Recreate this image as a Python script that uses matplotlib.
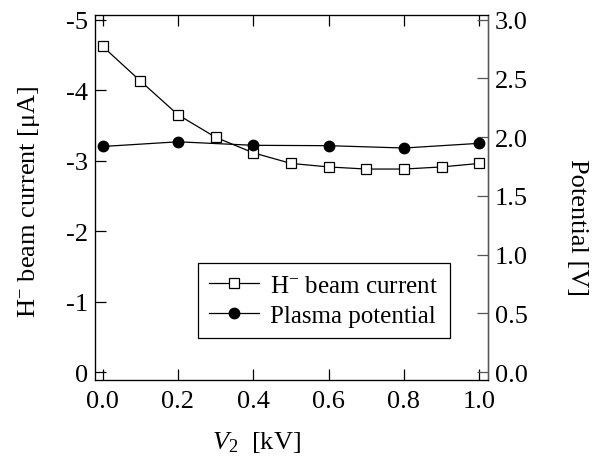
import matplotlib.pyplot as plt

plt.rcParams['font.family'] = ['Liberation Serif', 'DejaVu Serif']
plt.rcParams['mathtext.fontset'] = 'custom'
plt.rcParams['mathtext.rm'] = 'Liberation Serif'
plt.rcParams['mathtext.it'] = 'Liberation Serif:italic'
plt.rcParams['font.size'] = 19

# data
v2_current = [0.0, 0.1, 0.2, 0.3, 0.4, 0.5, 0.6, 0.7, 0.8, 0.9, 1.0]
h_current = [-4.62, -4.13, -3.65, -3.33, -3.11, -2.96, -2.91, -2.88, -2.88, -2.91, -2.96]

v2_potential = [0.0, 0.2, 0.4, 0.6, 0.8, 1.0]
plasma_potential = [1.92, 1.96, 1.93, 1.927, 1.907, 1.947]

x_ticks = [0.0, 0.2, 0.4, 0.6, 0.8, 1.0]
left_ticks = [0, -1, -2, -3, -4, -5]
right_ticks = [0.0, 0.5, 1.0, 1.5, 2.0, 2.5, 3.0]

fig = plt.figure(figsize=(6.02, 4.6), dpi=100)
ax = fig.add_axes([0.158, 0.172, 0.652, 0.794])
ax2 = ax.twinx()

l1, = ax.plot(v2_current, h_current, color='black', lw=0.9, marker='s',
              ms=6.8, mfc='white', mec='black', mew=0.9, label='H$^{-}$ beam current')
l2, = ax2.plot(v2_potential, plasma_potential, color='black', lw=0.9, marker='o',
               ms=7.5, mfc='black', mec='black', label='Plasma potential')

ax.set_xlim(-0.02, 1.022)
ax.set_ylim(0.11, -5.07)
ax2.set_ylim(-0.066, 3.042)

ax.set_xticks(x_ticks)
ax.set_xticklabels(['%.1f' % t for t in x_ticks])
ax.set_yticks(left_ticks)
ax.set_yticklabels([str(t) for t in left_ticks])
ax2.set_yticks(right_ticks)
ax2.set_yticklabels(['%.1f' % t for t in right_ticks])

ax.tick_params(axis='x', direction='in', length=8, width=0.9, top=True, pad=7)
ax.tick_params(axis='y', direction='in', length=8, width=0.9, pad=5)
ax2.tick_params(axis='y', direction='in', length=8, width=0.9, pad=5, color='#555555')
for s in ax.spines.values():
    s.set_linewidth(0.9)
ax2.spines['right'].set_color('#555555')
ax2.spines['right'].set_linewidth(0.9)

ax.set_xlabel('$V_2$  [kV]')
ax.xaxis.set_label_coords(0.41, -0.135)
ax.set_ylabel('H$^{-}$ beam current [μA]')
ax.yaxis.set_label_coords(-0.135, 0.49)
ax2.set_ylabel('Potential [V]', rotation=270, va='center')
ax2.yaxis.set_label_coords(1.228, 0.42)

leg = ax2.legend([l1, l2], [l1.get_label(), l2.get_label()],
                 loc='lower left', bbox_to_anchor=(0.262, 0.115), borderaxespad=0,
                 fancybox=False, edgecolor='black', framealpha=1,
                 handlelength=2.0, handletextpad=0.45, labelspacing=0.3,
                 borderpad=0.45, fontsize=18)
leg.get_frame().set_linewidth(0.9)

fig.savefig('out.png', dpi=100)
